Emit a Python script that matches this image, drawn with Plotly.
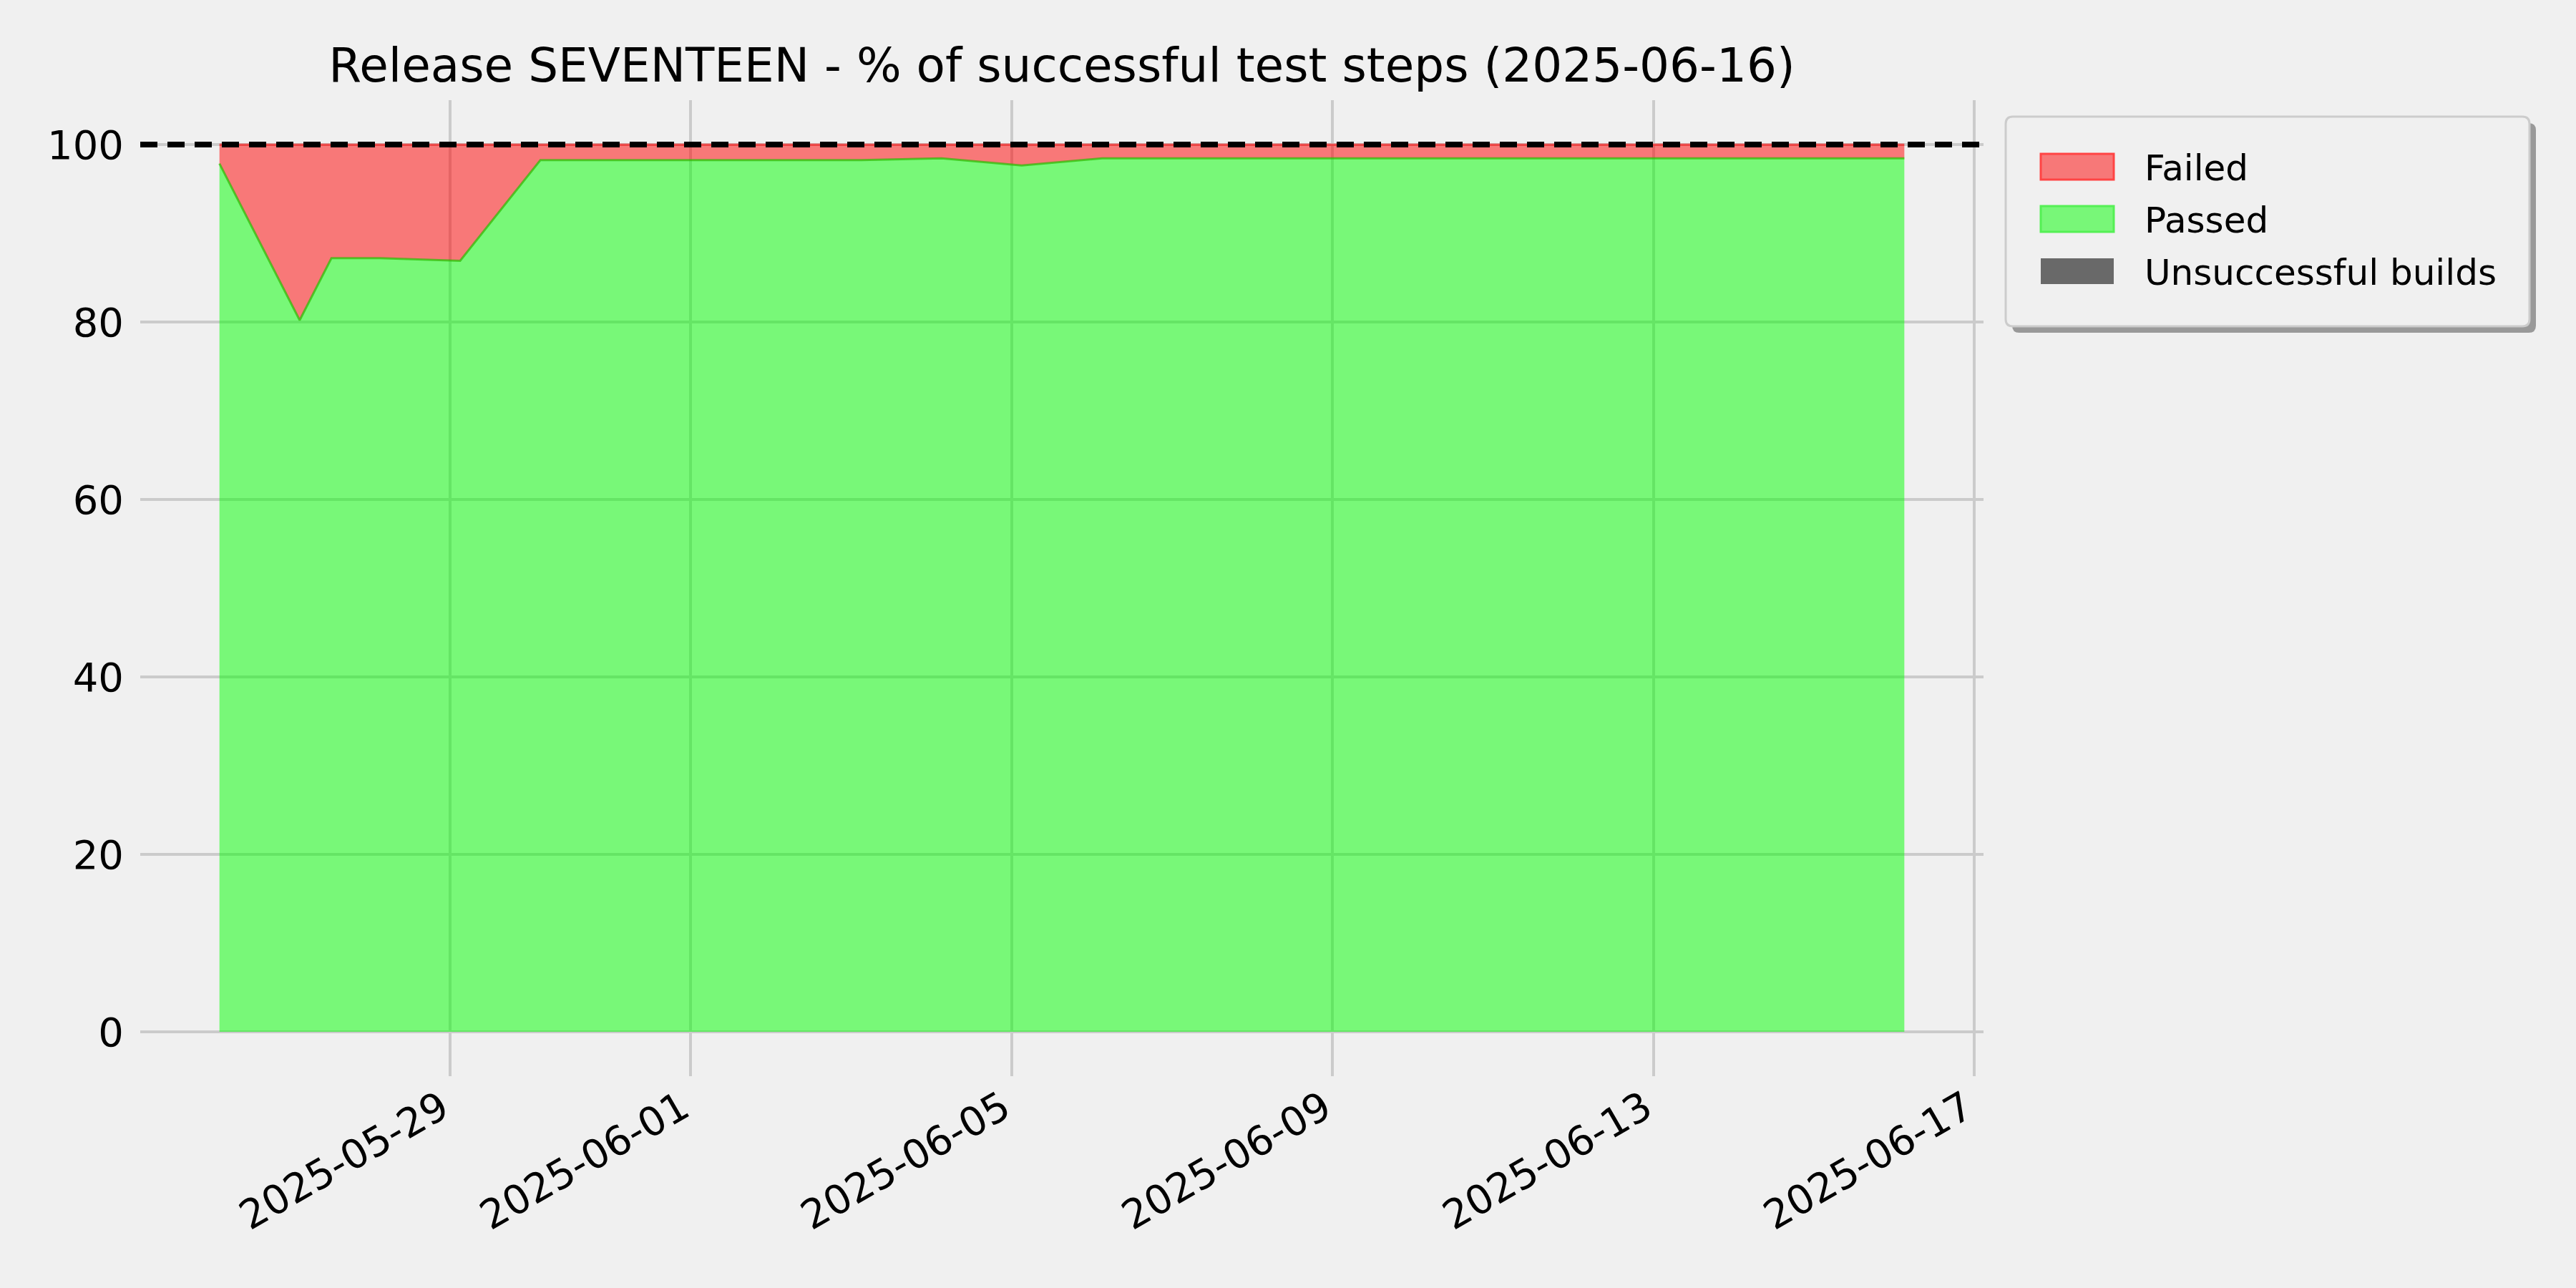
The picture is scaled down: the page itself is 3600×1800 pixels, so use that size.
import pandas as pd
import plotly.graph_objects as go

# ---------------- data ----------------
run_dates = [
    "2025-05-26 03:00", "2025-05-27 03:00", "2025-05-27 12:30", "2025-05-28 03:00",
    "2025-05-29 03:00", "2025-05-30 03:00", "2025-05-31 03:00", "2025-06-01 03:00",
    "2025-06-02 03:00", "2025-06-03 03:00", "2025-06-04 03:00", "2025-06-05 03:00",
    "2025-06-06 03:00", "2025-06-07 03:00", "2025-06-08 03:00", "2025-06-09 03:00",
    "2025-06-10 03:00", "2025-06-11 03:00", "2025-06-12 03:00", "2025-06-13 03:00",
    "2025-06-14 03:00", "2025-06-15 03:00", "2025-06-16 03:00",
]
passed_pct = [
    97.85, 80.2, 87.2, 87.2, 86.9, 98.25, 98.25, 98.25, 98.25, 98.25, 98.45, 97.65,
    98.45, 98.45, 98.45, 98.45, 98.45, 98.45, 98.45, 98.45, 98.45, 98.45, 98.45,
]
failed_pct = [
    2.15, 19.8, 12.8, 12.8, 13.1, 1.75, 1.75, 1.75, 1.75, 1.75, 1.55, 2.35,
    1.55, 1.55, 1.55, 1.55, 1.55, 1.55, 1.55, 1.55, 1.55, 1.55, 1.55,
]
unsuccessful_dates = []
unsuccessful_pct = []
target_pct = 100

x_tick_vals = ["2025-05-29", "2025-06-01", "2025-06-05", "2025-06-09", "2025-06-13", "2025-06-17"]
x_tick_text = ["2025-05-29", "2025-06-01", "2025-06-05", "2025-06-09", "2025-06-13", "2025-06-17"]
y_tick_vals = [0, 20, 40, 60, 80, 100]

legend_labels = ["Failed", "Passed", "Unsuccessful builds"]
title_text = "Release SEVENTEEN - % of successful test steps (2025-06-16)"

# ---------------- styling ----------------
FONT = "DejaVu Sans"
BG = "#f0f0f0"
GRID = "#cbcbcb"
W, H = 3600, 1800
ML, MR, MT, MB = 196, 828, 140, 296
PW, PH = W - ML - MR, H - MT - MB
TICK_SIZE = 56

FAILED_FILL = "rgba(255,0,0,0.5)"
PASSED_FILL = "rgba(0,255,0,0.5)"
legend_fills = ["#f77878", "#78f778", "#696969"]
legend_edges = ["#ff4444", "#55f055", "#696969"]


def px_x(px):
    return (px - ML) / PW


def px_y(py):
    return (H - MB - py) / PH


def rounded_rect(x0, y0, x1, y1, r):
    pts = [
        f"M{px_x(x0 + r)},{px_y(y0)}",
        f"L{px_x(x1 - r)},{px_y(y0)}",
        f"Q{px_x(x1)},{px_y(y0)} {px_x(x1)},{px_y(y0 + r)}",
        f"L{px_x(x1)},{px_y(y1 - r)}",
        f"Q{px_x(x1)},{px_y(y1)} {px_x(x1 - r)},{px_y(y1)}",
        f"L{px_x(x0 + r)},{px_y(y1)}",
        f"Q{px_x(x0)},{px_y(y1)} {px_x(x0)},{px_y(y1 - r)}",
        f"L{px_x(x0)},{px_y(y0 + r)}",
        f"Q{px_x(x0)},{px_y(y0)} {px_x(x0 + r)},{px_y(y0)}",
        "Z",
    ]
    return " ".join(pts)


# ---------------- figure ----------------
x_dt = pd.to_datetime(run_dates)
span = x_dt.max() - x_dt.min()
x_range = [x_dt.min() - 0.047 * span, x_dt.max() + 0.047 * span]

fig = go.Figure()

fig.add_trace(go.Scatter(
    x=x_dt, y=passed_pct, name="Passed", stackgroup="one", mode="lines",
    line=dict(color="rgba(40,190,0,0.7)", width=3),
    fillcolor=PASSED_FILL, showlegend=False,
))
fig.add_trace(go.Scatter(
    x=x_dt, y=failed_pct, name="Failed", stackgroup="one", mode="lines",
    line=dict(color="rgba(255,0,0,0.5)", width=3),
    fillcolor=FAILED_FILL, showlegend=False,
))
fig.add_trace(go.Bar(
    x=unsuccessful_dates if unsuccessful_dates else [None],
    y=unsuccessful_pct if unsuccessful_pct else [None],
    name="Unsuccessful builds", marker_color="#696969", showlegend=False,
))

fig.add_hline(y=target_pct, line=dict(color="black", width=8, dash="24px,14px"), layer="above")

# ---- legend box (matplotlib-like, with shadow and rounded corners) ----
LX0, LY0, LX1, LY1 = 2803, 163, 3535, 456
SH = 9
fig.add_shape(type="path", xref="paper", yref="paper",
              path=rounded_rect(LX0 + SH, LY0 + SH, LX1 + SH, LY1 + SH, 10),
              fillcolor="#999999", line=dict(width=0), layer="above")
fig.add_shape(type="path", xref="paper", yref="paper",
              path=rounded_rect(LX0, LY0, LX1, LY1, 10),
              fillcolor=BG, line=dict(color="#cccccc", width=3), layer="above")

row_centers = [233, 306, 379]
for i, lab in enumerate(legend_labels):
    cy = row_centers[i]
    fig.add_shape(type="rect", xref="paper", yref="paper",
                  x0=px_x(2852), x1=px_x(2954), y0=px_y(cy - 18), y1=px_y(cy + 18),
                  fillcolor=legend_fills[i],
                  line=dict(color=legend_edges[i], width=3 if i < 2 else 0),
                  layer="above")
    fig.add_annotation(x=px_x(2995), y=px_y(cy + 2), xref="paper", yref="paper",
                       text=lab, showarrow=False, xanchor="left", yanchor="middle",
                       font=dict(family=FONT, size=50, color="black"))

fig.update_layout(
    width=W, height=H,
    paper_bgcolor=BG, plot_bgcolor=BG,
    margin=dict(l=ML, r=MR, t=MT, b=MB, autoexpand=False),
    font=dict(family=FONT, color="black", size=TICK_SIZE),
    title=dict(
        text=title_text, font=dict(family=FONT, size=66, color="black"),
        x=0.5, xref="paper", xanchor="center",
        y=1 - 114 / H, yref="container", yanchor="bottom",
    ),
    showlegend=False,
    bargap=0,
)

fig.update_xaxes(
    type="date", range=x_range, automargin=False,
    tickmode="array", tickvals=x_tick_vals, ticktext=x_tick_text,
    tickangle=-30, tickfont=dict(size=TICK_SIZE), ticklabelshift=-12,
    showgrid=True, gridcolor=GRID, gridwidth=4,
    showline=False, zeroline=False, ticks="",
)
fig.update_yaxes(
    range=[-5, 105], tickmode="array", tickvals=y_tick_vals, automargin=False,
    tickfont=dict(size=TICK_SIZE),
    showgrid=True, gridcolor=GRID, gridwidth=4,
    showline=False, zeroline=False, ticks="", ticklabelstandoff=22,
)

fig.write_html(
    "out.html",
    config={"displayModeBar": False},
    post_script="document.body.style.margin='0px';document.body.style.overflow='hidden';",
)
